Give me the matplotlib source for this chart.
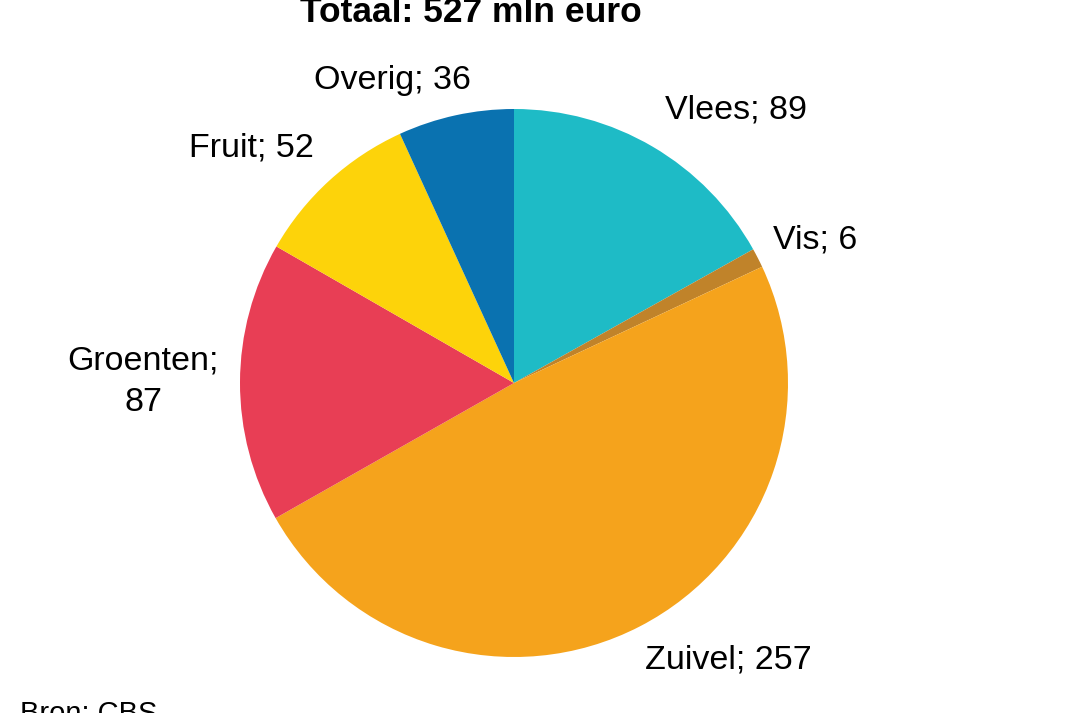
import matplotlib.pyplot as plt

W, H = 1070, 713

categories = ["Vlees", "Vis", "Zuivel", "Groenten", "Fruit", "Overig"]
values = [89, 6, 257, 87, 52, 36]
colors = ["#1EBBC6", "#C0832A", "#F5A31C", "#E83E55", "#FDD30A", "#0A72B0"]
total = 527

# label anchor points (pixels from top-left)
label_pos = {
    "Vlees": (736, 110),
    "Vis": (815, 240),
    "Zuivel": (728, 660),
    "Groenten": (143, 382),
    "Fruit": (251, 148),
    "Overig": (392, 80),
}

plt.rcParams["font.family"] = ["Liberation Sans", "DejaVu Sans"]

fig = plt.figure(figsize=(W / 100, H / 100), dpi=100)

cx, cy, r = 514, 383, 274
ax = fig.add_axes([(cx - r) / W, 1 - (cy + r) / H, 2 * r / W, 2 * r / H])
ax.pie(values, colors=colors, startangle=90, counterclock=False,
       wedgeprops=dict(linewidth=0))
ax.set_aspect("equal")
ax.set_xlim(-1, 1)
ax.set_ylim(-1, 1)
ax.axis("off")

for name, v in zip(categories, values):
    x, y = label_pos[name]
    txt = f"{name}; {v}" if name != "Groenten" else f"{name};\n{v}"
    fig.text(x / W, 1 - y / H, txt, ha="center", va="center",
             fontsize=24.5, linespacing=1.45)

fig.text(471 / W, 1 - 22 / H, f"Totaal: {total} mln euro", ha="center",
         va="baseline", fontsize=25.5, fontweight="bold")
fig.text(20 / W, 1 - 722 / H, "Bron: CBS", ha="left", va="baseline",
         fontsize=21)

fig.savefig("out.png", dpi=100)
